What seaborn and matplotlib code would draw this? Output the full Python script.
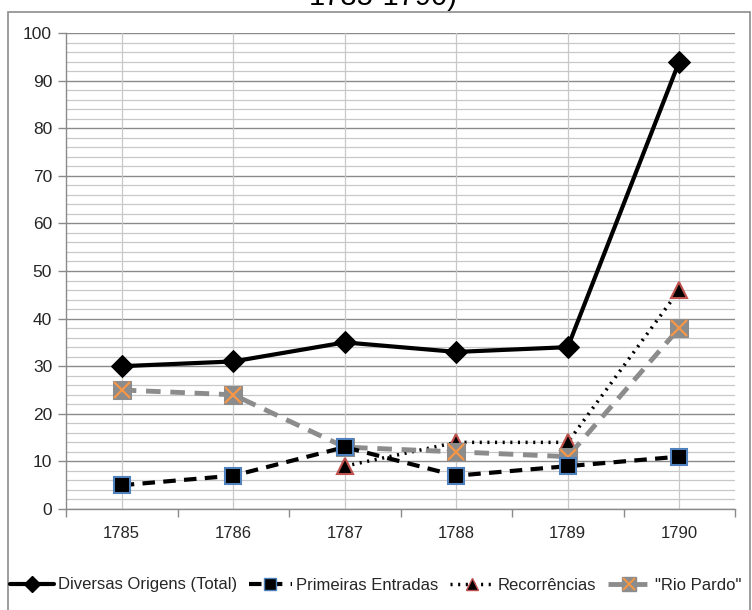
import matplotlib
matplotlib.use("Agg")
import matplotlib.pyplot as plt
import seaborn as sns
import pandas as pd
import numpy as np
from matplotlib.lines import Line2D
from matplotlib.legend_handler import HandlerTuple
from matplotlib.patches import Rectangle

years = ["1785", "1786", "1787", "1788", "1789", "1790"]
total = [30, 31, 35, 33, 34, 94]
primeiras = [5, 7, 13, 7, 9, 11]
recorrencias = [np.nan, np.nan, 9, 14, 14, 46]
rio_pardo = [25, 24, 13, 12, 11, 38]
yticks = list(range(0, 101, 10))

sns.set_theme(style="white")
plt.rcParams['font.family'] = ['Liberation Sans', 'DejaVu Sans']

fig = plt.figure(figsize=(7.52, 6.10), dpi=100)
ax = fig.add_axes([66/752, 101/610, (735-66)/752, (509-33)/610])

# chart border
fig.patches.append(Rectangle((8/752, -0.01), (750-8)/752, (610-12)/610 + 0.01,
                             transform=fig.transFigure, fill=False,
                             edgecolor="#8c8c8c", linewidth=1.2))

# title (mostly outside the top edge, as in the reference)
fig.text(0.51, 1 - 5/610, "1785-1790)", ha="center", va="baseline", fontsize=21,
         color="black")

x = np.arange(len(years))
df = pd.DataFrame({"x": x, "total": total, "prim": primeiras,
                   "rec": recorrencias, "rio": rio_pardo})

sns.lineplot(data=df, x="x", y="total", ax=ax, color="black", lw=3,
             marker="D", markersize=11, markerfacecolor="black",
             markeredgecolor="black", zorder=5)
sns.lineplot(data=df, x="x", y="prim", ax=ax, color="black", lw=3,
             linestyle=(0, (3, 2)), marker="s", markersize=11,
             markerfacecolor="black", markeredgecolor="#4F81BD",
             markeredgewidth=1.5, zorder=4)
sns.lineplot(data=df.dropna(), x="x", y="rec", ax=ax, color="black", lw=2.5,
             linestyle=(0, (0.6, 1.6)), marker="^", markersize=11,
             markerfacecolor="black", markeredgecolor="#C0504D",
             markeredgewidth=1.5, zorder=3)
sns.lineplot(data=df, x="x", y="rio", ax=ax, color="#8c8c8c", lw=3.5,
             linestyle=(0, (3, 2)), marker="s", markersize=13,
             markerfacecolor="#8c8c8c", markeredgecolor="#8c8c8c", zorder=3.5)
ax.plot(x, rio_pardo, linestyle="none", marker="x", markersize=12,
        markeredgecolor="#F79646", markeredgewidth=1.6, zorder=3.6)

ax.set_xlim(-0.5, 5.5)
ax.set_ylim(0, 100)
ax.set_xlabel("")
ax.set_ylabel("")

# gridlines
for v in range(0, 101, 2):
    if v % 10 == 0:
        ax.axhline(v, color="#8a8a8a", lw=1.0, zorder=1)
    else:
        ax.axhline(v, color="#c8c8c8", lw=0.9, zorder=1)
for xi in x:
    ax.axvline(xi, color="#c8c8c8", lw=0.9, zorder=1)

ax.set_yticks(yticks)
ax.set_yticklabels([str(t) for t in yticks], fontsize=12.5)
ax.set_xticks(x)
ax.set_xticklabels(years, fontsize=12)
ax.set_xticks(np.arange(-0.5, 6, 1), minor=True)
ax.tick_params(axis="x", which="major", length=0, pad=12)
ax.tick_params(axis="x", which="minor", length=6, color="#8a8a8a", width=1, direction="out", bottom=True)
ax.tick_params(axis="y", which="major", length=6, color="#8a8a8a", width=1, direction="out", left=True, pad=4)

for s in ["top", "right"]:
    ax.spines[s].set_visible(False)
for s in ["left", "bottom"]:
    ax.spines[s].set_color("#8a8a8a")
    ax.spines[s].set_linewidth(1.0)

h1 = Line2D([], [], color="black", lw=3, marker="D", markersize=8,
            markerfacecolor="black", markeredgecolor="black")
h2 = Line2D([], [], color="black", lw=3, linestyle=(0, (3, 2)), marker="s",
            markersize=9, markerfacecolor="black", markeredgecolor="#4F81BD")
h3 = Line2D([], [], color="black", lw=2.5, linestyle=(0, (0.6, 1.6)), marker="^",
            markersize=9, markerfacecolor="black", markeredgecolor="#C0504D")
h4a = Line2D([], [], color="#8c8c8c", lw=3.5, linestyle=(0, (3, 2)), marker="s",
             markersize=10, markerfacecolor="#8c8c8c", markeredgecolor="#8c8c8c")
h4b = Line2D([], [], linestyle="none", marker="x", markersize=9,
             markeredgecolor="#F79646", markeredgewidth=1.4)

fig.legend([h1, h2, h3, (h4a, h4b)],
           ["Diversas Origens (Total)", "Primeiras Entradas", "Recorrências", "\"Rio Pardo\""],
           handler_map={tuple: HandlerTuple(ndivide=1, pad=0)},
           loc="center", bbox_to_anchor=(0.5, 25/610), ncol=4, frameon=False,
           fontsize=12, handlelength=2.6, handletextpad=0.25, columnspacing=0.7,
           borderpad=0.1)

fig.savefig("out.png", dpi=100)
